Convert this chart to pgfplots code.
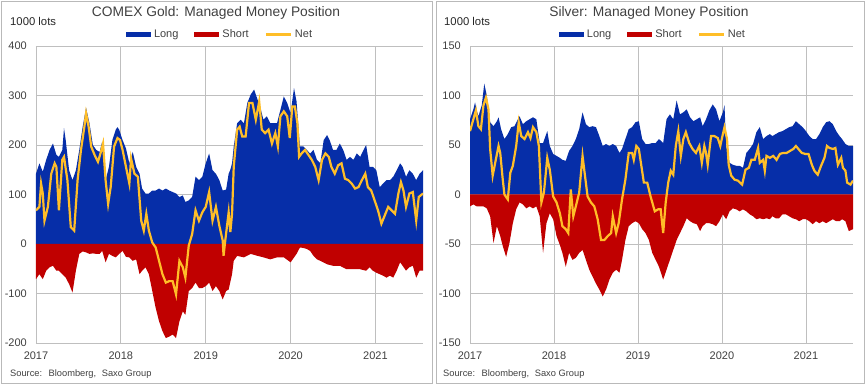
\documentclass[border=0pt]{standalone}
\usepackage{pgfplots}
\pgfplotsset{compat=1.18}
\usepackage{fontspec}
\setmainfont{Liberation Sans}
\definecolor{mmblue}{RGB}{6,46,168}
\definecolor{mmred}{RGB}{192,0,0}
\definecolor{mmgold}{RGB}{255,190,40}
\definecolor{gridgray}{RGB}{191,191,191}
\definecolor{txt}{RGB}{64,64,64}
\definecolor{framegray}{RGB}{185,185,185}
\pgfplotsset{
  mmstyle/.style={
    scale only axis, height=297pt, xmin=2017,
    axis line style={draw=none},
    major tick length=0pt, tick style={draw=none},
    grid=major, grid style={gridgray, line width=0.8pt},
    xtick={2017,2018,2019,2020,2021},
    xticklabels={2017,2018,2019,2020,2021},
    /pgf/number format/assume math mode=true,
    ticklabel style={font=\fontsize{11}{13}\selectfont, text=txt},
    yticklabel style={anchor=east, inner sep=0pt, xshift=-9pt},
    xticklabel style={anchor=base, inner sep=0pt, yshift=-17pt},
    legend columns=3,
    legend style={draw=none, fill=none, inner sep=0pt,
      font=\fontsize{11}{13}\selectfont, text=txt,
      nodes={inner xsep=0pt, inner ysep=0pt},
      /tikz/every odd column/.append style={column sep=3pt},
      /tikz/every even column/.append style={column sep=16pt}},
  },
  arealeg/.style={legend image code/.code={\fill[##1] (0pt,-2.5pt) rectangle (25pt,2.5pt);}},
  lineleg/.style={legend image code/.code={\draw[##1] (0pt,0pt) -- (25pt,0pt);}},
}
\begin{document}
\begin{tikzpicture}[x=1pt,y=1pt]
\useasboundingbox (0,0) rectangle (868,385);
\draw[framegray, line width=0.8pt] (1,2) rectangle (432,384);
\draw[framegray, line width=0.8pt] (436,2) rectangle (864,384);
% ---------------- Gold ----------------
\begin{axis}[mmstyle, at={(36pt,42pt)}, anchor=south west, width=387pt,
  xmax=2021.56, ymin=-200, ymax=400, ytick={-200,-100,...,400},
  legend style={at={(axis description cs:0.473,1.039)}, anchor=center}]
\addplot[fill=mmblue, draw=none, arealeg] coordinates {
(2017.00,142)(2017.04,163)(2017.08,146)(2017.12,170)(2017.16,190)(2017.20,203)(2017.24,180)(2017.27,176)(2017.31,190)(2017.33,234)(2017.35,210)(2017.39,149)(2017.43,129)(2017.47,149)(2017.51,190)(2017.55,237)(2017.59,275)(2017.63,244)(2017.67,200)(2017.71,190)(2017.75,186)(2017.78,207)(2017.82,129)(2017.86,156)(2017.90,210)(2017.94,231)(2017.96,236)(2017.98,231)(2018.02,210)(2018.06,193)(2018.10,163)(2018.14,186)(2018.18,156)(2018.22,142)(2018.25,112)(2018.29,102)(2018.33,102)(2018.37,108)(2018.41,108)(2018.45,112)(2018.49,108)(2018.53,112)(2018.57,108)(2018.61,105)(2018.65,102)(2018.69,95)(2018.73,98)(2018.76,85)(2018.80,88)(2018.84,95)(2018.88,136)(2018.92,129)(2018.96,136)(2019.00,163)(2019.04,183)(2019.08,149)(2019.12,142)(2019.16,129)(2019.20,108)(2019.24,110)(2019.27,142)
(2019.29,150)(2019.31,163)(2019.33,197)(2019.37,244)(2019.41,251)(2019.45,244)(2019.49,285)(2019.53,302)(2019.57,312)(2019.61,292)(2019.64,278)(2019.68,251)(2019.72,258)(2019.76,244)(2019.80,244)(2019.84,244)(2019.88,271)(2019.92,298)(2019.96,285)(2020.00,264)(2020.04,315)(2020.07,288)(2020.11,197)(2020.15,197)(2020.19,190)(2020.23,183)(2020.27,190)(2020.31,170)(2020.35,163)(2020.39,210)(2020.43,220)(2020.46,210)(2020.50,190)(2020.54,190)(2020.58,203)(2020.62,190)(2020.66,170)(2020.70,176)(2020.74,170)(2020.78,183)(2020.82,176)(2020.86,190)(2020.89,200)(2020.93,156)(2020.97,156)(2021.01,149)(2021.05,115)(2021.09,122)(2021.13,129)(2021.17,129)(2021.21,136)(2021.25,149)(2021.29,163)(2021.32,156)(2021.36,136)(2021.40,149)(2021.44,142)(2021.48,129)(2021.52,142)(2021.56,149)
} \closedcycle;
\addlegendentry{Long}
\addplot[fill=mmred, draw=none, arealeg] coordinates {
(2017.00,-71)(2017.04,-61)(2017.08,-71)(2017.12,-54)(2017.16,-47)(2017.20,-44)(2017.24,-54)(2017.27,-54)(2017.31,-61)(2017.35,-68)(2017.39,-81)(2017.43,-98)(2017.47,-54)(2017.51,-20)(2017.55,-15)(2017.59,-17)(2017.63,-20)(2017.67,-19)(2017.71,-20)(2017.75,-20)(2017.78,-14)(2017.82,-37)(2017.86,-20)(2017.90,-24)(2017.94,-27)(2017.98,-20)(2018.02,-14)(2018.06,-26)(2018.10,-27)(2018.14,-34)(2018.18,-31)(2018.22,-61)(2018.25,-54)(2018.29,-47)(2018.33,-61)(2018.37,-95)(2018.41,-129)(2018.45,-156)(2018.49,-176)(2018.53,-190)(2018.57,-187)(2018.61,-183)(2018.65,-190)(2018.69,-156)(2018.73,-136)(2018.76,-143)(2018.80,-95)(2018.84,-89)(2018.88,-78)(2018.92,-89)(2018.96,-89)(2019.00,-85)(2019.04,-78)(2019.08,-95)(2019.12,-85)(2019.16,-95)(2019.20,-112)(2019.24,-95)(2019.27,-92)(2019.31,-61)(2019.33,-34)(2019.37,-24)(2019.45,-27)(2019.53,-20)(2019.61,-24)(2019.68,-27)(2019.76,-31)(2019.84,-27)(2019.92,-27)(2020.00,-37)(2020.07,-20)(2020.11,-7)(2020.15,-8)(2020.19,-10)(2020.23,-14)(2020.27,-24)(2020.31,-31)(2020.35,-34)(2020.43,-41)(2020.50,-44)(2020.58,-44)(2020.66,-51)(2020.74,-51)(2020.82,-51)(2020.89,-54)(2020.93,-47)(2020.97,-54)(2021.01,-58)(2021.05,-61)(2021.09,-64)(2021.13,-68)(2021.17,-64)(2021.21,-68)(2021.25,-54)(2021.29,-37)(2021.32,-44)(2021.36,-54)(2021.40,-47)(2021.44,-44)(2021.48,-68)(2021.52,-54)(2021.56,-54)
} \closedcycle;
\addlegendentry{Short}
\addplot[mmgold, line width=2.2pt, lineleg] coordinates {
(2017.00,68)(2017.04,75)(2017.06,122)(2017.08,102)(2017.10,47)(2017.14,75)(2017.18,142)(2017.22,163)(2017.24,156)(2017.27,68)(2017.31,170)(2017.33,176)(2017.37,129)(2017.41,34)(2017.45,27)(2017.49,129)(2017.53,190)(2017.57,237)(2017.59,264)(2017.62,237)(2017.65,197)(2017.69,180)(2017.73,166)(2017.76,183)(2017.79,203)(2017.82,129)(2017.85,81)(2017.88,115)(2017.92,197)(2017.96,214)(2017.99,210)(2018.02,190)(2018.06,156)(2018.10,122)(2018.12,173)(2018.16,142)(2018.20,136)(2018.24,47)(2018.27,27)(2018.30,61)(2018.33,27)(2018.37,3)(2018.41,-7)(2018.45,-34)(2018.49,-61)(2018.53,-78)(2018.57,-75)(2018.61,-75)(2018.65,-102)(2018.69,-34)(2018.73,-47)(2018.76,-68)(2018.80,-3)(2018.84,20)(2018.88,68)(2018.92,47)(2018.96,64)(2019.00,75)(2019.04,105)(2019.08,47)(2019.12,75)(2019.16,37)(2019.20,7)(2019.21,-24)(2019.23,7)(2019.27,64)(2019.29,24)(2019.31,61)(2019.33,156)(2019.37,231)(2019.40,237)(2019.43,217)(2019.47,217)(2019.51,285)(2019.55,285)(2019.59,251)(2019.63,288)(2019.66,231)(2019.70,224)(2019.74,231)(2019.78,203)(2019.82,224)(2019.85,197)(2019.88,258)(2019.92,268)(2019.96,258)(2019.99,214)(2020.02,278)(2020.05,278)(2020.08,244)(2020.10,176)(2020.13,183)(2020.17,190)(2020.21,180)(2020.25,170)(2020.29,156)(2020.33,129)(2020.37,170)(2020.41,183)(2020.45,176)(2020.48,156)(2020.52,142)(2020.56,159)(2020.60,163)(2020.64,132)(2020.68,129)(2020.72,122)(2020.76,112)(2020.80,115)(2020.84,129)(2020.88,142)(2020.91,115)(2020.95,108)(2020.99,88)(2021.03,68)(2021.07,41)(2021.11,58)(2021.15,75)(2021.19,68)(2021.23,61)(2021.27,102)(2021.30,125)(2021.33,108)(2021.36,75)(2021.40,102)(2021.44,105)(2021.48,47)(2021.51,95)(2021.56,102)
};
\addlegendentry{Net}
\end{axis}
% ---------------- Silver ----------------
\begin{axis}[mmstyle, at={(470pt,42pt)}, anchor=south west, width=383pt,
  xmax=2021.56, ymin=-150, ymax=150, ytick={-150,-100,...,150},
  legend style={at={(axis description cs:0.475,1.039)}, anchor=center}]
\addplot[fill=mmblue, draw=none, arealeg] coordinates {
(2017.00,76)(2017.04,86)(2017.06,93)(2017.08,85)(2017.10,79)(2017.14,90)(2017.17,112)(2017.20,100)(2017.24,73)(2017.28,69)(2017.32,74)(2017.34,78)(2017.37,66)(2017.41,56)(2017.45,61)(2017.49,68)(2017.53,69)(2017.57,76)(2017.59,79)(2017.63,71)(2017.67,74)(2017.71,76)(2017.75,78)(2017.79,76)(2017.83,52)(2017.87,52)(2017.92,64)(2017.95,49)(2017.99,41)(2018.03,39)(2018.07,37)(2018.10,35)(2018.14,34)(2018.18,44)(2018.22,49)(2018.26,56)(2018.30,66)(2018.34,83)(2018.38,71)(2018.42,68)(2018.46,69)(2018.50,68)(2018.54,59)(2018.58,49)(2018.62,51)(2018.66,49)(2018.70,51)(2018.74,49)(2018.78,42)(2018.81,46)(2018.85,56)(2018.89,66)(2018.93,68)(2018.97,73)(2019.01,74)(2019.05,56)(2019.09,51)(2019.13,51)(2019.17,52)(2019.21,52)(2019.25,56)
(2019.30,52)(2019.34,76)(2019.38,81)(2019.42,76)(2019.46,95)(2019.50,81)(2019.54,83)(2019.58,86)(2019.62,78)(2019.66,74)(2019.70,76)(2019.74,78)(2019.77,69)(2019.81,76)(2019.85,85)(2019.89,91)(2019.93,86)(2019.97,74)(2020.01,83)(2020.03,90)(2020.05,49)(2020.09,32)(2020.13,30)(2020.17,29)(2020.21,29)(2020.25,27)(2020.29,42)(2020.33,46)(2020.37,51)(2020.41,63)(2020.45,68)(2020.49,56)(2020.53,59)(2020.57,61)(2020.60,59)(2020.64,61)(2020.68,63)(2020.72,64)(2020.76,66)(2020.80,68)(2020.84,69)(2020.88,74)(2020.92,71)(2020.96,68)(2021.00,64)(2021.04,59)(2021.08,56)(2021.12,56)(2021.16,61)(2021.20,68)(2021.24,73)(2021.28,74)(2021.32,71)(2021.36,64)(2021.40,59)(2021.43,56)(2021.47,51)(2021.51,49)(2021.56,49)
} \closedcycle;
\addlegendentry{Long}
\addplot[fill=mmred, draw=none, arealeg] coordinates {
(2017.00,-12)(2017.04,-10)(2017.08,-12)(2017.12,-12)(2017.16,-12)(2017.20,-14)(2017.24,-22)(2017.28,-49)(2017.32,-32)(2017.36,-42)(2017.39,-52)(2017.43,-63)(2017.47,-49)(2017.51,-29)(2017.55,-15)(2017.59,-8)(2017.63,-10)(2017.67,-14)(2017.71,-12)(2017.75,-14)(2017.79,-12)(2017.83,-22)(2017.87,-59)(2017.91,-29)(2017.95,-19)(2017.99,-25)(2018.03,-42)(2018.07,-51)(2018.10,-59)(2018.14,-73)(2018.18,-59)(2018.22,-66)(2018.26,-64)(2018.30,-59)(2018.34,-56)(2018.38,-66)(2018.42,-76)(2018.46,-83)(2018.50,-90)(2018.54,-96)(2018.58,-103)(2018.62,-96)(2018.66,-86)(2018.70,-79)(2018.74,-76)(2018.78,-79)(2018.81,-66)(2018.85,-46)(2018.89,-32)(2018.93,-29)(2018.97,-27)(2019.01,-29)(2019.05,-35)(2019.09,-39)(2019.13,-46)(2019.17,-59)(2019.21,-66)(2019.25,-73)
(2019.30,-86)(2019.34,-76)(2019.38,-66)(2019.42,-56)(2019.46,-46)(2019.50,-39)(2019.54,-32)(2019.58,-24)(2019.62,-27)(2019.66,-29)(2019.70,-30)(2019.74,-37)(2019.77,-32)(2019.81,-29)(2019.85,-29)(2019.89,-30)(2019.93,-32)(2019.97,-27)(2020.01,-20)(2020.05,-25)(2020.09,-17)(2020.13,-14)(2020.17,-15)(2020.21,-17)(2020.25,-15)(2020.29,-17)(2020.33,-20)(2020.37,-22)(2020.41,-25)(2020.45,-24)(2020.49,-25)(2020.53,-24)(2020.57,-25)(2020.60,-22)(2020.64,-24)(2020.68,-24)(2020.72,-20)(2020.76,-20)(2020.80,-22)(2020.84,-24)(2020.88,-25)(2020.92,-27)(2020.96,-25)(2021.00,-25)(2021.04,-27)(2021.08,-30)(2021.12,-27)(2021.16,-29)(2021.20,-27)(2021.24,-29)(2021.28,-27)(2021.32,-25)(2021.36,-27)(2021.40,-27)(2021.43,-25)(2021.47,-27)(2021.51,-37)(2021.56,-35)
} \closedcycle;
\addlegendentry{Short}
\addplot[mmgold, line width=2.2pt, lineleg] coordinates {
(2017.00,64)(2017.04,76)(2017.07,85)(2017.10,69)(2017.13,66)(2017.16,90)(2017.19,98)(2017.22,86)(2017.24,46)(2017.27,19)(2017.30,32)(2017.34,49)(2017.36,42)(2017.39,15)(2017.41,0)(2017.45,-5)(2017.48,22)(2017.51,29)(2017.55,49)(2017.58,73)(2017.61,59)(2017.65,56)(2017.69,63)(2017.72,57)(2017.75,68)(2017.79,63)(2017.82,49)(2017.85,-8)(2017.88,2)(2017.92,37)(2017.95,25)(2017.99,-2)(2018.03,-8)(2018.07,-19)(2018.10,-32)(2018.14,-35)(2018.17,-39)(2018.20,5)(2018.23,-22)(2018.26,-12)(2018.30,2)(2018.34,39)(2018.36,25)(2018.40,-2)(2018.44,-8)(2018.48,-12)(2018.52,-25)(2018.56,-46)(2018.60,-46)(2018.64,-42)(2018.68,-39)(2018.70,-22)(2018.74,-39)(2018.77,-29)(2018.81,-5)(2018.85,15)(2018.89,42)(2018.93,42)(2018.95,35)(2018.98,49)(2019.01,46)(2019.04,29)(2019.07,12)(2019.11,12)(2019.15,-2)(2019.20,-17)(2019.24,-15)(2019.27,-15)(2019.30,-39)(2019.33,-8)(2019.36,12)(2019.39,24)(2019.42,20)(2019.45,49)(2019.48,64)(2019.51,39)(2019.54,56)(2019.57,63)(2019.61,52)(2019.65,46)(2019.69,42)(2019.73,49)(2019.76,32)(2019.79,49)(2019.81,42)(2019.83,30)(2019.87,59)(2019.91,59)(2019.95,57)(2019.98,49)(2020.00,57)(2020.03,68)(2020.06,56)(2020.08,30)(2020.11,19)(2020.15,15)(2020.19,14)(2020.24,10)(2020.28,25)(2020.32,27)(2020.35,35)(2020.39,35)(2020.43,47)(2020.45,32)(2020.49,35)(2020.51,24)(2020.53,39)(2020.57,37)(2020.61,39)(2020.65,35)(2020.69,41)(2020.73,42)(2020.77,42)(2020.81,44)(2020.85,46)(2020.88,49)(2020.91,46)(2020.95,42)(2020.99,41)(2021.03,41)(2021.07,30)(2021.10,24)(2021.14,20)(2021.18,29)(2021.22,37)(2021.25,49)(2021.28,47)(2021.32,46)(2021.35,47)(2021.38,30)(2021.42,37)(2021.44,27)(2021.47,24)(2021.49,12)(2021.53,10)(2021.56,14)
};
\addlegendentry{Net}
\end{axis}
% ---------------- texts ----------------
\node[anchor=base, text=txt, font=\fontsize{13.8}{16}\selectfont, inner sep=0pt] at (216,368.3) {COMEX Gold: Managed Money Position};
\node[anchor=base, text=txt, font=\fontsize{13.8}{16}\selectfont, inner sep=0pt] at (649,368.3) {Silver: Managed Money Position};
\node[anchor=base west, text=black!85, font=\fontsize{11.3}{13}\selectfont, inner sep=0pt] at (10,359.7) {1000 lots};
\node[anchor=base west, text=black!85, font=\fontsize{11.3}{13}\selectfont, inner sep=0pt] at (444,359.7) {1000 lots};
\node[anchor=base west, text=txt, font=\fontsize{9.3}{11}\selectfont, inner sep=0pt] at (10,8.3) {Source:\hspace{3pt} Bloomberg,\hspace{3pt} Saxo Group};
\node[anchor=base west, text=txt, font=\fontsize{9.3}{11}\selectfont, inner sep=0pt] at (443,8.3) {Source:\hspace{3pt} Bloomberg,\hspace{3pt} Saxo Group};
\end{tikzpicture}
\end{document}
